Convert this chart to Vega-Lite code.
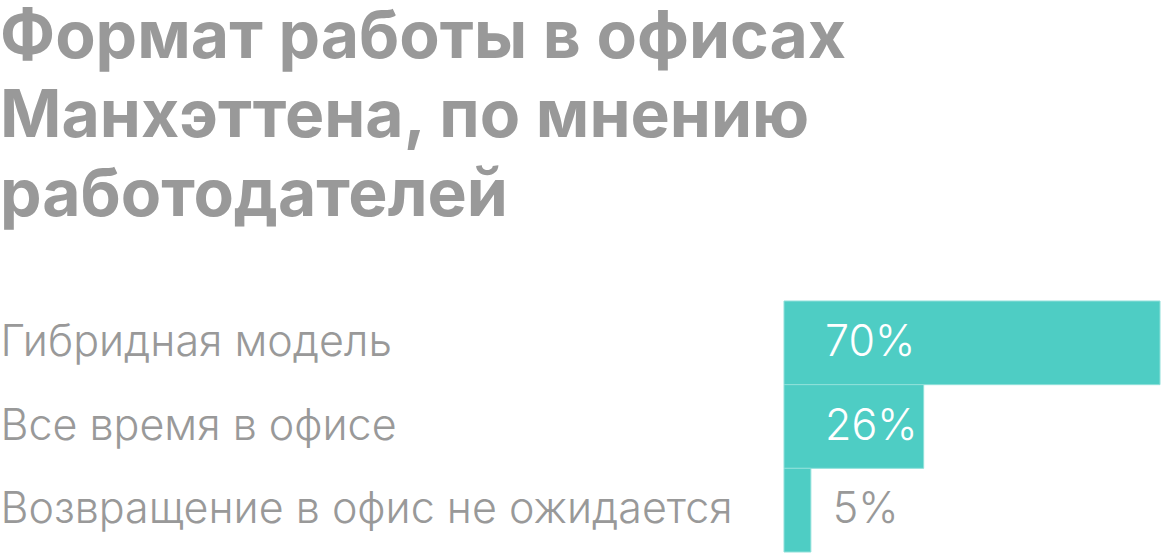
{
  "$schema": "https://vega.github.io/schema/vega-lite/v6.json",
  "width": 376,
  "height": 251,
  "padding": {"top": 4, "left": 0, "right": 0, "bottom": 0},
  "background": "white",
  "title": {
    "text": ["Формат работы в офисах", "Манхэттена, по мнению", "работодателей"],
    "anchor": "start",
    "frame": "bounds",
    "font": "Inter",
    "fontSize": 66,
    "fontWeight": "bold",
    "lineHeight": 79,
    "color": "#999999",
    "offset": 71
  },
  "config": {
    "view": {"stroke": null},
    "axis": {"labelFont": "Inter", "labelColor": "#999999"}
  },
  "data": {
    "values": [
      {"format": "Гибридная модель", "share": 0.70},
      {"format": "Все время в офисе", "share": 0.26},
      {"format": "Возвращение в офис не ожидается", "share": 0.05}
    ]
  },
  "encoding": {
    "y": {
      "field": "format",
      "type": "nominal",
      "sort": null,
      "scale": {"paddingInner": 0, "paddingOuter": 0},
      "axis": {
        "title": null,
        "domain": false,
        "ticks": false,
        "labelAlign": "left",
        "labelPadding": 784,
        "labelFontSize": 43,
        "labelFontWeight": 300,
        "labelLimit": 0
      }
    }
  },
  "layer": [
    {
      "mark": {"type": "bar", "color": "#4ecdc4", "stroke": "#8fe0da", "strokeWidth": 1},
      "encoding": {
        "x": {
          "field": "share",
          "type": "quantitative",
          "scale": {"domain": [0, 0.7], "nice": false},
          "axis": null
        }
      }
    },
    {
      "transform": [{"filter": "datum.share >= 0.1"}],
      "mark": {"type": "text", "align": "left", "baseline": "middle", "dx": 41, "font": "Inter", "fontSize": 43, "fontWeight": 300, "color": "white"},
      "encoding": {
        "x": {"datum": 0, "type": "quantitative"},
        "text": {"field": "share", "type": "quantitative", "format": ".0%"}
      }
    },
    {
      "transform": [{"filter": "datum.share < 0.1"}],
      "mark": {"type": "text", "align": "left", "baseline": "middle", "dx": 22, "font": "Inter", "fontSize": 43, "fontWeight": 300, "color": "#999999"},
      "encoding": {
        "x": {"field": "share", "type": "quantitative"},
        "text": {"field": "share", "type": "quantitative", "format": ".0%"}
      }
    }
  ]
}
